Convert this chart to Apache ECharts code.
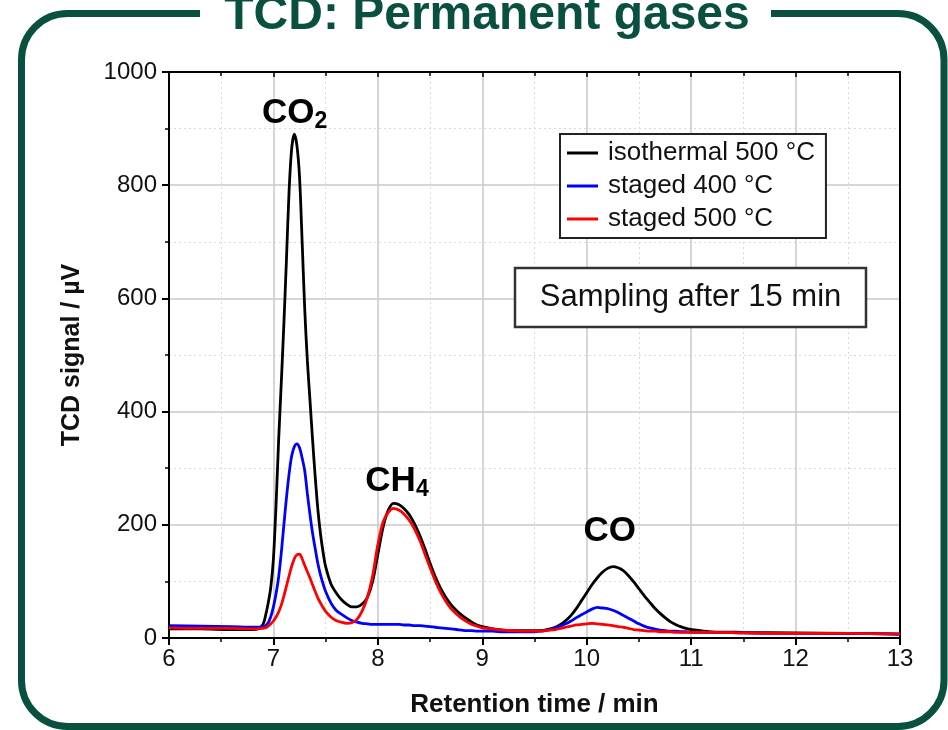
<!DOCTYPE html>
<html>
<head>
<meta charset="utf-8">
<title>TCD: Permanent gases</title>
<script src="https://cdn.jsdelivr.net/npm/echarts@6/dist/echarts.min.js"></script>
<style>
  html, body { margin: 0; padding: 0; background: #ffffff; }
  #chart { width: 948px; height: 730px; }
</style>
</head>
<body>
<div id="chart"></div>
<script>
// Retention time grid (min) shared by all three chromatograms;
// finer steps through the peaks
const retentionTime = [
  6.0, 6.3, 6.6, 6.8, 6.85,
  6.9, 6.925, 6.95, 6.975, 7.0, 7.025, 7.05, 7.075, 7.1, 7.125,
  7.15, 7.175, 7.2, 7.225, 7.25, 7.275, 7.3, 7.325, 7.35, 7.375,
  7.4, 7.425, 7.45, 7.475, 7.5,
  7.55, 7.6, 7.65, 7.7, 7.75, 7.8, 7.85, 7.9, 7.95, 8.0,
  8.05, 8.1, 8.15, 8.2, 8.25, 8.3, 8.35, 8.4, 8.45, 8.5,
  8.55, 8.6, 8.65, 8.7, 8.75, 8.8, 8.85, 8.9, 8.95, 9.0,
  9.1, 9.2, 9.3, 9.4, 9.5,
  9.55, 9.6, 9.65, 9.7, 9.75, 9.8, 9.85, 9.9, 9.95, 10.0,
  10.05, 10.1, 10.15, 10.2, 10.25, 10.3, 10.35, 10.4, 10.45, 10.5,
  10.55, 10.6, 10.65, 10.7, 10.75, 10.8, 10.85, 10.9, 10.95, 11.0,
  11.2, 11.5, 12.0, 12.5, 13.0
];

// TCD signal (µV)
const isothermal500 = [
  16, 16, 15, 15, 16,
  24, 40, 62, 90, 140, 235, 350, 450, 555, 670,
  790, 865, 890, 870, 815, 700, 580, 490, 420, 350,
  285, 228, 185, 152, 126,
  96, 80, 68, 60, 55, 55, 60, 72, 100, 148,
  196, 226, 238, 236, 229, 218, 202, 182, 158, 132,
  108, 88, 72, 59, 49, 41, 34, 28, 23, 20,
  16, 14, 13, 13, 13,
  13, 14, 16, 19, 24, 31, 40, 52, 66, 80,
  94, 106, 116, 123, 126, 124, 119, 110, 99, 87,
  75, 64, 53, 44, 36, 29, 24, 20, 17, 15,
  11, 10, 9, 8, 7
];
const staged400 = [
  22, 21, 20, 19, 19,
  20, 22, 27, 38, 55, 78, 108, 150, 200, 248,
  290, 322, 338, 343, 336, 318, 295, 255, 218, 185,
  158, 132, 112, 96, 82,
  62, 49, 42, 36, 31, 28, 26, 25, 24, 24,
  24, 24, 24, 24, 23, 23, 22, 22, 21, 20,
  19, 18, 17, 16, 15, 14, 13, 13, 12, 12,
  12, 11, 11, 11, 11,
  12, 13, 15, 18, 21, 25, 30, 36, 41, 46,
  51, 54, 53, 52, 49, 45, 40, 35, 30, 25,
  21, 18, 16, 14, 13, 12, 12, 11, 11, 10,
  10, 9, 8, 8, 7
];
const staged500 = [
  18, 17, 17, 16, 16,
  17, 18, 21, 25, 30, 37, 46, 58, 74, 92,
  110, 127, 140, 147, 148, 140, 128, 117, 106, 94,
  82, 71, 62, 54, 47,
  37, 31, 28, 26, 27, 33, 48, 72, 110, 165,
  205, 222, 229, 226, 219, 208, 193, 173, 149, 124,
  101, 81, 65, 52, 43, 35, 29, 24, 21, 18,
  16, 14, 13, 12, 12,
  12, 13, 14, 15, 17, 19, 21, 23, 24, 25,
  26, 25, 24, 23, 22, 20, 19, 17, 15, 14,
  13, 12, 12, 11, 11, 11, 10, 10, 10, 10,
  10, 9, 8, 8, 7
];

const seriesNames = ['isothermal 500 °C', 'staged 400 °C', 'staged 500 °C'];
const xTicks = [6, 7, 8, 9, 10, 11, 12, 13];
const yTicks = [0, 200, 400, 600, 800, 1000];

// Peak names, anchored (top-left) in data coordinates
const peakLabels = [
  { name: 'CO', sub: '2', t: 6.89, v: 962 },
  { name: 'CH', sub: '4', t: 7.88, v: 312 },
  { name: 'CO', sub: '',  t: 9.97, v: 224 }
];

const GREEN = '#0a5041';
const FONT = '"Liberation Sans", Arial, sans-serif';

const pairs = (ys) => retentionTime.map((t, i) => [t, ys[i]]);

const chart = echarts.init(document.getElementById('chart'), null, { renderer: 'canvas' });

const lineSeries = (name, ys, color) => ({
  name: name,
  type: 'line',
  data: pairs(ys),
  showSymbol: false,
  symbol: 'none',
  smooth: 0.3,
  lineStyle: { color: color, width: 2.8 },
  itemStyle: { color: color },
  emphasis: { disabled: true },
  animation: false
});

const option = {
  animation: false,
  backgroundColor: '#ffffff',
  grid: { left: 169, right: 48, top: 72, bottom: 92, containLabel: false },
  legend: {
    orient: 'vertical',
    left: 560,
    top: 134,
    padding: [6, 11, 6, 7],
    itemGap: 7,
    itemWidth: 31,
    itemHeight: 3,
    icon: 'rect',
    borderColor: '#222',
    borderWidth: 2,
    backgroundColor: '#ffffff',
    textStyle: { fontFamily: FONT, fontSize: 26, color: '#111', lineHeight: 26, padding: [0, 0, 0, 5] },
    data: seriesNames
  },
  xAxis: [
    {
      type: 'value', position: 'bottom', min: xTicks[0], max: xTicks[xTicks.length - 1], interval: 1,
      name: 'Retention time / min', nameLocation: 'middle', nameGap: 54,
      nameTextStyle: { fontFamily: FONT, fontSize: 26, fontWeight: 'bold', color: '#111' },
      axisLine: { show: true, onZero: false, lineStyle: { color: '#000', width: 2 } },
      axisTick: { show: true, length: 7, lineStyle: { color: '#000', width: 2 } },
      minorTick: { show: true, splitNumber: 2, length: 4, lineStyle: { color: '#000', width: 1.5 } },
      axisLabel: { fontFamily: FONT, fontSize: 24, color: '#111', margin: 9 },
      splitLine: { show: true, lineStyle: { color: '#c9c9c9', width: 1.5 } },
      minorSplitLine: { show: true, lineStyle: { color: '#d9d9d9', width: 1, type: [2, 3] } }
    },
    {
      type: 'value', position: 'top', min: xTicks[0], max: xTicks[xTicks.length - 1], interval: 1,
      axisLine: { show: true, onZero: false, lineStyle: { color: '#000', width: 2 } },
      axisTick: { show: true, inside: true, length: 5, lineStyle: { color: '#000', width: 1.5 } },
      minorTick: { show: true, splitNumber: 2, length: 4, lineStyle: { color: '#000', width: 1.5 } },
      axisLabel: { show: false },
      splitLine: { show: false }
    }
  ],
  yAxis: [
    {
      type: 'value', position: 'left', min: yTicks[0], max: yTicks[yTicks.length - 1], interval: 200,
      name: 'TCD signal / µV', nameLocation: 'middle', nameGap: 84,
      nameTextStyle: { fontFamily: FONT, fontSize: 25, fontWeight: 'bold', color: '#111' },
      axisLine: { show: true, onZero: false, lineStyle: { color: '#000', width: 2 } },
      axisTick: { show: true, length: 7, lineStyle: { color: '#000', width: 2 } },
      minorTick: { show: true, splitNumber: 2, length: 4, lineStyle: { color: '#000', width: 1.5 } },
      axisLabel: { fontFamily: FONT, fontSize: 24, color: '#111', margin: 12, formatter: (v) => String(v) },
      splitLine: { show: true, lineStyle: { color: '#c9c9c9', width: 1.5 } },
      minorSplitLine: { show: true, lineStyle: { color: '#d9d9d9', width: 1, type: [2, 3] } }
    },
    {
      type: 'value', position: 'right', min: yTicks[0], max: yTicks[yTicks.length - 1], interval: 200,
      axisLine: { show: true, onZero: false, lineStyle: { color: '#000', width: 2 } },
      axisTick: { show: false },
      axisLabel: { show: false },
      splitLine: { show: false }
    }
  ],
  series: [
    lineSeries(seriesNames[0], isothermal500, '#000000'),
    lineSeries(seriesNames[1], staged400, '#0000ff'),
    lineSeries(seriesNames[2], staged500, '#ff0000')
  ]
};

chart.setOption(option);

// Frame, title, note box and peak names
const graphics = [
  {
    type: 'rect', z: 100, silent: true,
    shape: { x: 21.5, y: 13.5, width: 922.5, height: 713, r: 46 },
    style: { fill: 'none', stroke: GREEN, lineWidth: 7 }
  },
  {
    type: 'rect', z: 101, silent: true,
    shape: { x: 200, y: 4, width: 571, height: 22 },
    style: { fill: '#ffffff' }
  },
  {
    type: 'text', z: 102, silent: true,
    x: 487, y: 16,
    style: {
      text: 'TCD: Permanent gases',
      font: 'bold 48px ' + FONT,
      fill: GREEN,
      textAlign: 'center',
      textVerticalAlign: 'middle'
    }
  },
  {
    type: 'rect', z: 100, silent: true,
    shape: { x: 515, y: 268, width: 351, height: 59 },
    style: { fill: '#ffffff', stroke: '#333333', lineWidth: 2.5 }
  },
  {
    type: 'text', z: 101, silent: true,
    x: 690.5, y: 297.5,
    style: {
      text: 'Sampling after 15 min',
      font: '31px ' + FONT,
      fill: '#111',
      textAlign: 'center',
      textVerticalAlign: 'middle'
    }
  }
];

peakLabels.forEach(function (p) {
  const pos = chart.convertToPixel({ xAxisIndex: 0, yAxisIndex: 0 }, [p.t, p.v]);
  graphics.push({
    type: 'text', z: 101, silent: true,
    x: pos[0], y: pos[1],
    style: {
      text: '{m|' + p.name + '}' + (p.sub ? '{s|' + p.sub + '}' : ''),
      textAlign: 'left',
      textVerticalAlign: 'top',
      rich: {
        m: { fontFamily: FONT, fontSize: 35, fontWeight: 'bold', color: '#000', lineHeight: 40 },
        s: { fontFamily: FONT, fontSize: 23, fontWeight: 'bold', color: '#000', lineHeight: 16, verticalAlign: 'bottom' }
      }
    }
  });
});

chart.setOption({ graphic: graphics });
</script>
</body>
</html>
